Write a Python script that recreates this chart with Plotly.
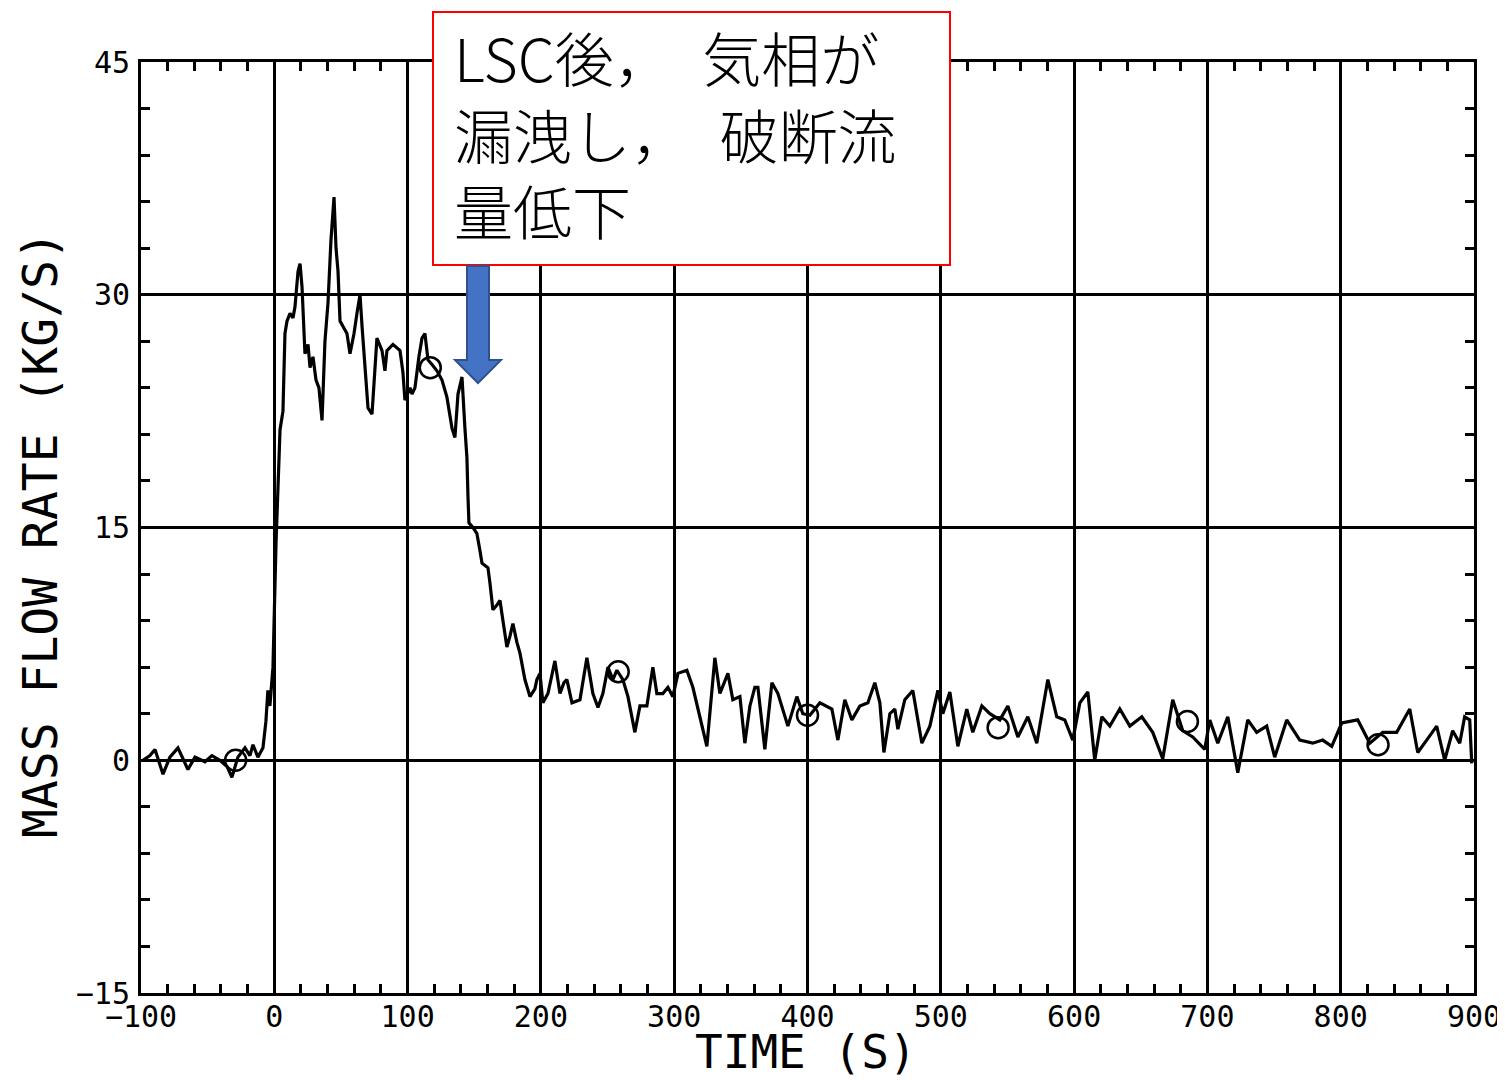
import plotly.graph_objects as go

# ---- data ----
time_s = [
    -98.5, -93.3, -89.5, -85.8, -83.5, -78.3, -72.3, -68.5, -64.8, -59.5, -52.0, -46.8, -40.8, -35.5,
    -31.8, -27.3, -22.0, -18.3, -16.0, -12.3, -8.5, -6.3, -4.8, -3.3, -1.0, 1.3, 2.8, 4.3, 6.5, 8.0,
    9.5, 11.8, 14.0, 15.5, 17.8, 19.3, 20.8, 23.0, 25.3, 26.8, 29.0, 31.3, 33.5, 35.8, 38.0, 40.3,
    42.5, 44.8, 46.3, 47.8, 49.3, 52.3, 54.5, 56.8, 59.8, 62.0, 64.3, 65.8, 68.0, 70.3, 73.3, 75.5,
    77.0, 80.8, 83.0, 84.5, 89.0, 94.3, 96.5, 98.0, 101.8, 103.3, 105.5, 108.5, 110.8, 113.0, 115.3,
    118.3, 122.0, 125.8, 129.5, 133.3, 135.5, 137.8, 140.8, 143.0, 144.5, 145.3, 146.0, 149.0, 152.0,
    154.3, 155.8, 158.8, 160.3, 161.8, 164.0, 167.0, 169.3, 171.5, 174.5, 176.8, 179.0, 182.0, 184.3,
    188.0, 191.8, 195.5, 197.0, 199.3, 201.5, 205.3, 210.5, 214.3, 217.3, 219.5, 223.3, 229.3, 234.5,
    239.0, 242.8, 246.5, 250.3, 254.0, 257.0, 261.5, 265.3, 270.5, 274.3, 279.5, 284.0, 287.0, 291.5,
    295.3, 299.0, 302.8, 309.5, 314.0, 319.3, 324.5, 330.5, 334.3, 340.3, 344.0, 349.3, 353.0, 356.8,
    360.5, 362.8, 368.0, 373.3, 377.8, 385.3, 392.0, 396.5, 401.8, 409.3, 418.3, 422.8, 428.0, 433.3,
    439.3, 445.3, 450.5, 454.3, 457.3, 461.8, 465.5, 467.8, 473.0, 479.0, 485.8, 491.8, 497.8, 501.5,
    506.8, 512.8, 519.5, 524.0, 530.8, 536.8, 544.3, 550.3, 557.8, 565.3, 572.0, 580.3, 587.0, 593.0,
    599.0, 604.3, 610.3, 615.5, 620.8, 626.8, 634.3, 641.8, 650.8, 659.0, 666.5, 674.0, 681.5, 689.0,
    698.0, 701.8, 707.8, 715.3, 722.8, 730.3, 737.0, 744.5, 750.5, 759.5, 769.3, 779.0, 786.5, 793.3,
    800.8, 812.8, 821.8, 831.5, 842.0, 851.8, 857.8, 864.5, 872.0, 878.0, 884.0, 889.3, 893.0, 896.8,
    898.3,
]
mass_flow = [
    0.0, 0.3, 0.7, -0.2, -0.9, 0.2, 0.8, 0.1, -0.6, 0.2, -0.1, 0.3, 0.0, -0.4,
    -1.1, 0.2, 0.8, 0.3, 1.0, 0.2, 0.8, 2.5, 4.5, 3.5, 6.0, 14.0, 18.0, 21.3, 22.5, 27.5,
    28.3, 28.8, 28.5, 29.2, 31.5, 32.0, 30.5, 26.2, 26.8, 25.3, 26.0, 24.5, 24.0, 21.9, 27.0, 29.5,
    33.5, 36.3, 33.0, 31.5, 28.3, 27.8, 27.5, 26.2, 27.5, 28.8, 30.0, 28.0, 25.3, 22.7, 22.3, 25.0,
    27.2, 26.4, 25.1, 26.4, 26.8, 26.4, 25.0, 23.2, 24.0, 23.6, 24.0, 26.0, 27.2, 27.5, 25.8,
    25.5, 25.1, 24.5, 23.4, 21.4, 20.8, 23.6, 24.7, 21.4, 19.5, 17.0, 15.3, 15.0, 14.6,
    13.5, 12.7, 12.5, 12.4, 11.4, 9.7, 10.0, 10.3, 9.0, 7.3, 8.0, 8.8, 7.6, 6.9,
    5.2, 4.1, 4.6, 5.2, 5.6, 3.7, 4.3, 6.4, 4.3, 5.0, 5.2, 3.7, 3.9, 6.6,
    4.3, 3.4, 4.3, 6.0, 5.2, 5.8, 5.2, 4.1, 1.8, 3.5, 3.5, 6.0, 4.3, 4.3,
    4.7, 4.1, 5.6, 5.8, 4.7, 2.8, 0.9, 6.6, 4.3, 5.6, 3.9, 4.1, 1.1, 3.5,
    4.7, 4.7, 0.7, 5.0, 4.3, 2.2, 4.1, 3.0, 2.9, 3.7, 3.3, 1.3, 3.9, 2.6,
    3.5, 3.7, 5.0, 3.7, 0.5, 3.0, 3.3, 2.0, 3.9, 4.5, 1.1, 2.2, 4.5, 3.0,
    4.4, 0.9, 3.3, 1.8, 3.5, 3.0, 2.6, 3.5, 1.5, 2.8, 1.1, 5.2, 2.8, 2.6,
    1.3, 3.7, 4.4, 0.0, 2.8, 2.2, 3.3, 2.2, 2.8, 1.8, 0.1, 3.9, 1.9, 1.5,
    0.7, 2.6, 1.1, 2.8, -0.8, 2.6, 1.8, 2.2, 0.2, 2.6, 1.3, 1.1, 1.3, 0.9,
    2.4, 2.6, 1.1, 1.8, 1.8, 3.3, 0.5, 1.3, 2.2, 0.0, 1.9, 1.1, 2.8, 2.6,
    -0.2,
]
marker_time = [-29, 117, 258, 400, 543, 685, 828]
marker_flow = [0.0, 25.3, 5.7, 2.9, 2.1, 2.5, 1.0]

x_tick_vals = [-100, 0, 100, 200, 300, 400, 500, 600, 700, 800, 900]
y_tick_vals = [-15, 0, 15, 30, 45]

x_title = "TIME (S)"
y_title = "MASS FLOW RATE (KG/S)"
note_text = "LSC後，　気相が<br>漏洩し，　破断流<br>量低下"

# ---- layout geometry (page pixels; the page body has an 8 px margin) ----
OFF = 8
FW, FH = 1505 - OFF, 1083 - 2 * OFF
ML, MT = 141 - OFF, 62 - OFF
MR = FW - (1474 - OFF)
MB = FH - (993 - OFF)
PW, PH = FW - ML - MR, FH - MT - MB


def px(xp):
    return (xp - OFF - ML) / PW


def py(yp):
    return (FH - MB - (yp - OFF)) / PH


fig = go.Figure()
fig.add_trace(go.Scatter(
    x=time_s, y=mass_flow, mode="lines",
    line=dict(color="black", width=3.2), showlegend=False, hoverinfo="skip",
))
fig.add_trace(go.Scatter(
    x=marker_time, y=marker_flow, mode="markers",
    marker=dict(symbol="circle-open", size=21, color="black", line=dict(width=2.5)),
    showlegend=False, hoverinfo="skip",
))

tick_font = dict(family="DejaVu Sans Mono", size=30, color="black")
title_font = dict(family="DejaVu Sans Mono", size=46, color="black")

fig.update_xaxes(
    range=[-100, 900], tickvals=x_tick_vals, showgrid=True, gridcolor="black", gridwidth=2.5,
    zeroline=False, showline=True, linecolor="black", linewidth=3, mirror="ticks",
    ticks="inside", ticklen=10, tickwidth=2.5, tickcolor="black", tickfont=tick_font,
    ticklabelstandoff=-5, automargin=False,
    minor=dict(dtick=20, tick0=0, ticks="inside", ticklen=9, tickwidth=2.5, tickcolor="black", showgrid=False),
)
fig.update_yaxes(
    range=[-15, 45], tickvals=y_tick_vals, showgrid=True, gridcolor="black", gridwidth=2.5,
    zeroline=False, showline=True, linecolor="black", linewidth=3, mirror="ticks",
    ticks="inside", ticklen=10, tickwidth=2.5, tickcolor="black", tickfont=tick_font,
    ticklabelstandoff=2, automargin=False,
    minor=dict(dtick=3, tick0=0, ticks="inside", ticklen=9, tickwidth=2.5, tickcolor="black", showgrid=False),
)

# axis titles
fig.add_annotation(xref="paper", yref="paper", x=px(806), y=py(1052), xanchor="center", yanchor="middle",
                   text=x_title, showarrow=False, font=title_font)
fig.add_annotation(xref="paper", yref="paper", x=px(40), y=py(535), xanchor="center", yanchor="middle",
                   text=y_title, showarrow=False, textangle=-90,
                   font=dict(family="DejaVu Sans Mono", size=48, color="black"))

# annotation box
fig.add_shape(type="rect", xref="paper", yref="paper",
              x0=px(433), x1=px(950), y0=py(265), y1=py(12),
              line=dict(color="#FF0000", width=2), fillcolor="white", layer="above")
fig.add_annotation(xref="paper", yref="paper", x=px(452), y=py(133),
                   xanchor="left", yanchor="middle", align="left", showarrow=False,
                   text=note_text,
                   font=dict(family="Noto Sans CJK JP", size=59, color="black", weight=300))

# block arrow
ax = [467, 489, 489, 501, 478, 455, 467]
ay = [266, 266, 360, 360, 383, 360, 360]
path = "M " + " L ".join(f"{px(a):.5f},{py(b):.5f}" for a, b in zip(ax, ay)) + " Z"
fig.add_shape(type="path", xref="paper", yref="paper", path=path,
              fillcolor="#4472C4", line=dict(color="#2F528F", width=2), layer="above")

fig.update_layout(
    width=FW, height=FH, autosize=False,
    margin=dict(l=ML, r=MR, t=MT, b=MB, pad=0),
    plot_bgcolor="white", paper_bgcolor="white",
    showlegend=False,
)

fig.write_html("out.html")
